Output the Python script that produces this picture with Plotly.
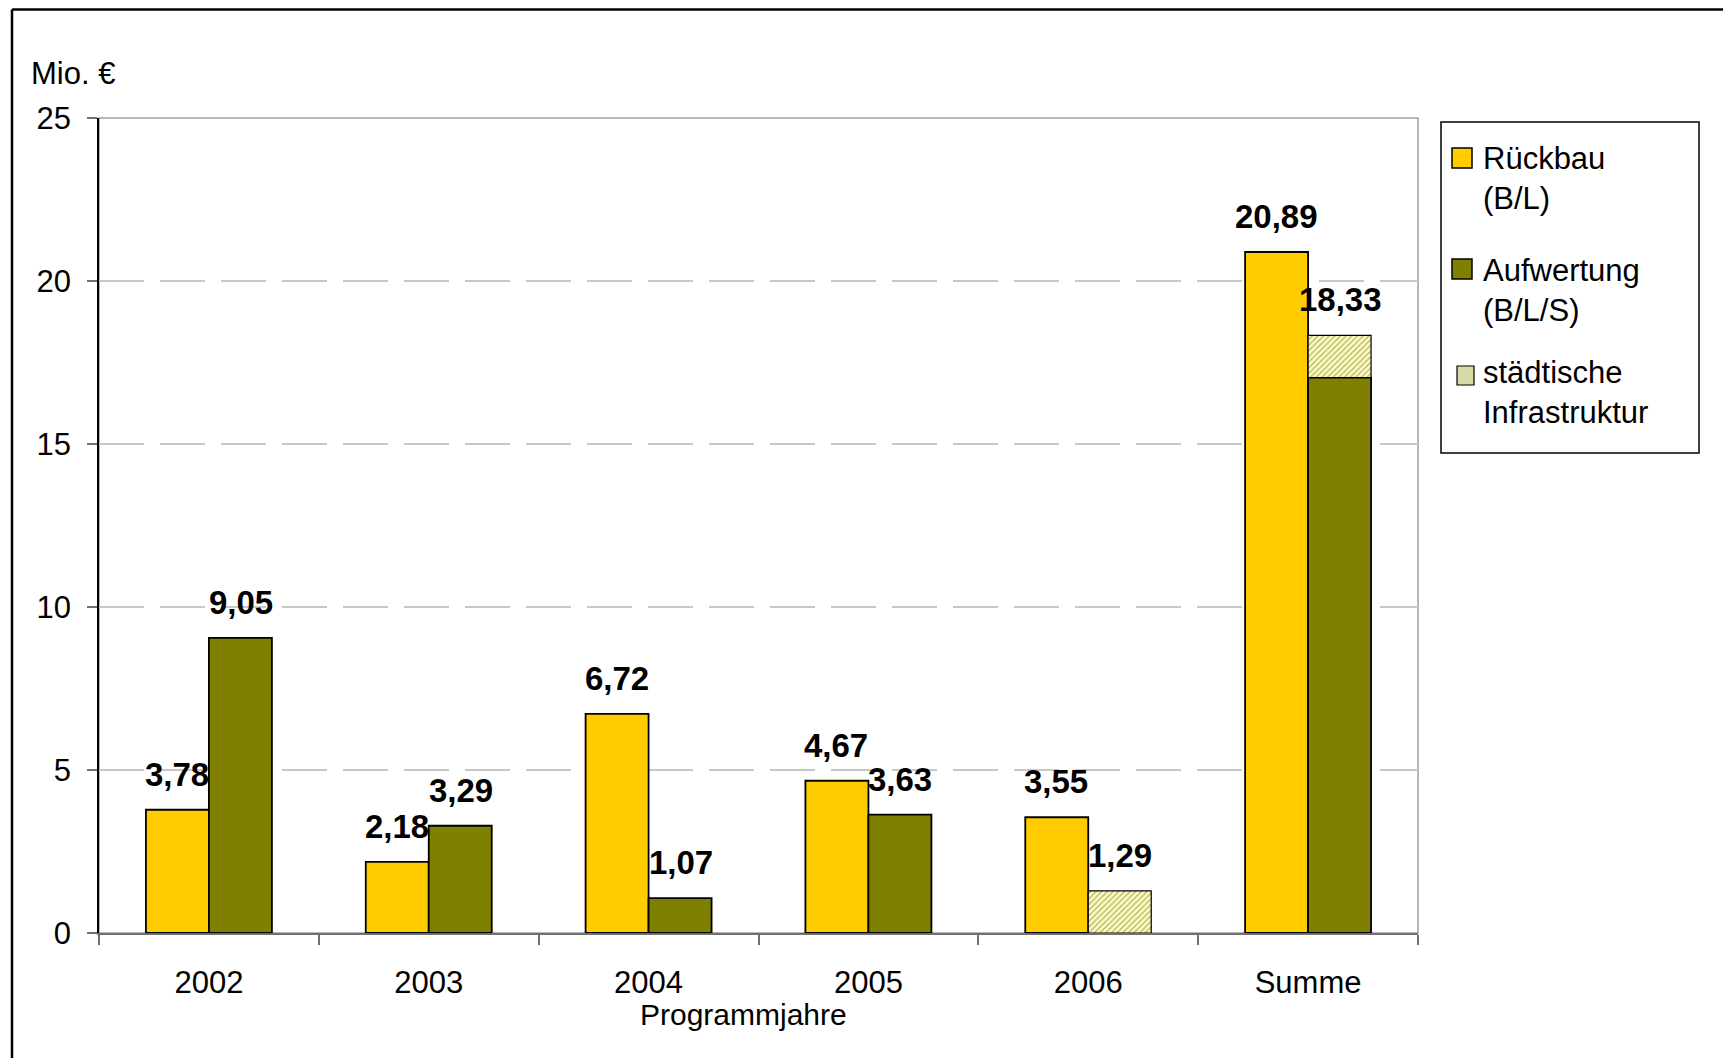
import plotly.graph_objects as go

categories = ["2002", "2003", "2004", "2005", "2006", "Summe"]
rueckbau = [3.78, 2.18, 6.72, 4.67, 3.55, 20.89]
aufwertung = [9.05, 3.29, 1.07, 3.63, None, 17.04]
staedtisch = [None, None, None, None, 1.29, 1.29]
y_ticks = [0, 5, 10, 15, 20, 25]
legend_labels = [["Rückbau", "(B/L)"], ["Aufwertung", "(B/L/S)"], ["städtische", "Infrastruktur"]]

YELLOW = "#FFCC00"
OLIVE = "#808000"
HATCH_BG = "#FFFFD0"
FONT = "Liberation Sans, Arial, sans-serif"

# plot area in reference pixel coords: x 99..1418, y 118..933
L, R, T, B = 99, 1418, 118, 933
OFF = 8  # page body margin of the html page
def px(x):
    return (x - L) / (R - L)
def py(y):
    return (B - y) / (B - T)

base_st = [a if a is not None else 0 for a in aufwertung]
group2_tot = [round((a or 0) + (s or 0), 2) for a, s in zip(aufwertung, staedtisch)]

fig = go.Figure()
fig.add_trace(go.Bar(
    x=categories, y=rueckbau, name="Rückbau (B/L)", offsetgroup="1",
    marker=dict(color=YELLOW, line=dict(color="black", width=1.8)),
))
fig.add_trace(go.Bar(
    x=categories, y=aufwertung, name="Aufwertung (B/L/S)", offsetgroup="2",
    marker=dict(color=OLIVE, line=dict(color="black", width=1.8)),
))
fig.add_trace(go.Bar(
    x=categories, y=staedtisch, base=base_st, name="städtische Infrastruktur", offsetgroup="2",
    marker=dict(color=HATCH_BG, line=dict(color="black", width=1.2),
                pattern=dict(shape="/", fgcolor=OLIVE, bgcolor=HATCH_BG, size=4, solidity=0.4)),
))

def fmt(v):
    return f"{v:.2f}".replace(".", ",")

annotations = []
for i, v in enumerate(rueckbau):
    annotations.append(dict(x=i, y=v, xref="x", yref="y", text=f"<b>{fmt(v)}</b>",
                            showarrow=False, xshift=-32, yshift=15, yanchor="bottom",
                            font=dict(size=33, color="black", family=FONT)))
for i, v in enumerate(group2_tot):
    annotations.append(dict(x=i, y=v, xref="x", yref="y", text=f"<b>{fmt(v)}</b>",
                            showarrow=False, xshift=32, yshift=15, yanchor="bottom",
                            font=dict(size=33, color="black", family=FONT)))
annotations.append(dict(x=px(29), y=py(73), xref="paper", yref="paper", text="Mio. €",
                        showarrow=False, xanchor="left", yanchor="middle",
                        font=dict(size=31, color="black", family=FONT)))
annotations.append(dict(x=px(743), y=py(1014), xref="paper", yref="paper", text="Programmjahre",
                        showarrow=False, xanchor="center", yanchor="middle",
                        font=dict(size=30, color="black", family=FONT)))

# manual legend
leg_line_y = [(158, 198), (270, 310), (372, 412)]
for (l1, l2), (y1, y2) in zip(legend_labels, leg_line_y):
    for txt, yy in ((l1, y1), (l2, y2)):
        annotations.append(dict(x=px(1481), y=py(yy), xref="paper", yref="paper", text=txt,
                                showarrow=False, xanchor="left", yanchor="middle",
                                font=dict(size=31, color="black", family=FONT)))

shapes = [
    # plot area border (gray)
    dict(type="rect", xref="paper", yref="paper", x0=0, x1=1, y0=0, y1=1,
         line=dict(color="#A0A0A0", width=1.5), layer="below"),
    # outer chart frame
    dict(type="line", xref="paper", yref="paper", x0=px(12), x1=px(1800), y0=py(9.5), y1=py(9.5),
         line=dict(color="black", width=2.5)),
    dict(type="line", xref="paper", yref="paper", x0=px(12), x1=px(12), y0=py(1100), y1=py(9.5),
         line=dict(color="black", width=2.5)),
    # legend box
    dict(type="rect", xref="paper", yref="paper", x0=px(1441), x1=px(1699), y0=py(453), y1=py(122),
         line=dict(color="black", width=1.5), fillcolor="white"),
    # legend symbols
    dict(type="rect", xref="paper", yref="paper", x0=px(1452), x1=px(1472), y0=py(168), y1=py(148),
         line=dict(color="black", width=1.5), fillcolor=YELLOW),
    dict(type="rect", xref="paper", yref="paper", x0=px(1452), x1=px(1472), y0=py(279), y1=py(259),
         line=dict(color="black", width=1.5), fillcolor=OLIVE),
    dict(type="rect", xref="paper", yref="paper", x0=px(1457), x1=px(1474), y0=py(385), y1=py(366),
         line=dict(color="black", width=1.2), fillcolor="#DADAA8"),
]

fig.update_layout(
    width=1731, height=1058,
    margin=dict(l=L - OFF, r=1731 - (R - OFF), t=T - OFF, b=1058 - (B - OFF)),
    paper_bgcolor="white", plot_bgcolor="white",
    font=dict(family=FONT, size=31, color="black"),
    barmode="group", bargap=0.427, bargroupgap=0,
    showlegend=False,
    annotations=annotations,
    shapes=shapes,
    xaxis=dict(type="category", range=[-0.5, len(categories) - 0.5], showline=True,
               linecolor="#707070", linewidth=1.5, ticks="outside",
               tickson="boundaries", ticklen=10, tickcolor="#707070", tickwidth=1.5,
               showgrid=False, ticklabelstandoff=21, tickangle=0,
               tickfont=dict(size=31, family=FONT, color="black")),
    yaxis=dict(range=[0, 25], tickvals=y_ticks, showline=True, linecolor="black", linewidth=1.5,
               ticks="outside", ticklen=10, tickcolor="#707070", tickwidth=1.5,
               showgrid=True, gridcolor="#C8C8C8", gridwidth=1.5, griddash="45px,16px",
               zeroline=False, ticklabelstandoff=10,
               tickfont=dict(size=31, family=FONT, color="black")),
)

fig.write_html("out.html")
